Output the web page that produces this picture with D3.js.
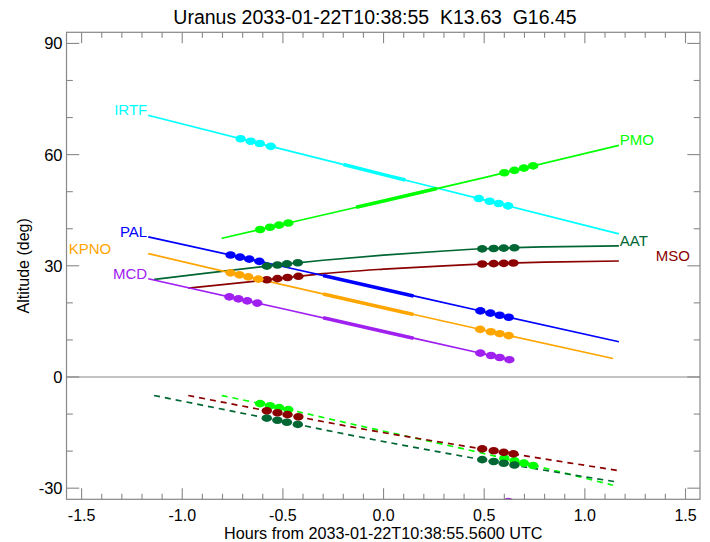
<!DOCTYPE html>
<html><head><meta charset="utf-8">
<script src="https://cdn.jsdelivr.net/npm/d3@7"></script>
<style>
body{margin:0;background:#fff;}
svg{display:block;font-family:"Liberation Sans",Arial,sans-serif;}
</style></head><body>
<svg id="c" width="710" height="542"></svg>
<script>
// ---------- data ----------
const title = "Uranus 2033-01-22T10:38:55  K13.63  G16.45";
const xLabel = "Hours from 2033-01-22T10:38:55.5600 UTC";
const yLabel = "Altitude (deg)";
const xMajorTicks = [-1.5, -1.0, -0.5, 0.0, 0.5, 1.0, 1.5];
const xMinorTicks = d3.range(-15, 16).map(d => d / 10);
const yMajorTicks = [-30, 0, 30, 60, 90];
const yMinorTicks = d3.range(-30, 91, 10);

const names  = ["IRTF", "PMO", "AAT", "MSO", "PAL", "KPNO", "MCD"];
const colors = ["#00ffff", "#00ff00", "#006633", "#8b0000", "#0000ff", "#ffa500", "#a020f0"];

// altitude curves [hours, deg]
const irtfAlt = [[-1.169, 70.6], [-0.5, 61.4], [0, 54.6], [0.5, 47.8], [1.169, 38.6]];
const pmoAlt  = [[-0.804, 37.4], [-0.5, 41.2], [0, 47.5], [0.5, 53.8], [1.169, 62.5]];
const aatAlt  = [[-1.14, 26.3], [-0.9, 27.9], [-0.5, 30.4], [-0.3, 31.5], [0, 32.9], [0.3, 34.0], [0.5, 34.6], [0.8, 35.1], [1.169, 35.4]];
const msoAlt  = [[-0.97, 24.0], [-0.8, 24.9], [-0.5, 26.7], [-0.3, 27.9], [0, 29.1], [0.3, 30.0], [0.5, 30.5], [0.8, 31.0], [1.169, 31.3]];
const palAlt  = [[-1.169, 37.8], [-0.5, 29.8], [0, 23.7], [0.5, 17.6], [1.169, 9.5]];
const kpnoAlt = [[-1.169, 33.3], [-0.76, 28.1], [0, 18.7], [0.5, 12.6], [1.14, 5.0]];
const mcdAlt  = [[-1.169, 26.5], [-0.5, 18.4], [0, 12.3], [0.5, 6.2], [0.639, 4.5]];

// dashed (below horizon) curves
const aatLow = [[-1.14, -5.0], [-0.58, -11.1], [-0.116, -16.2], [0.49, -22.3], [1.169, -28.4]];
const msoLow = [[-0.97, -5.0], [-0.58, -9.1], [-0.116, -13.9], [0.49, -19.4], [1.161, -25.2]];
const pmoLow = [[-0.804, -5.0], [-0.473, -8.8], [-0.116, -13.2], [0.597, -21.9], [1.139, -29.2]];

// highlighted (thick) windows [start, end] hours
const irtfThick = [-0.199, 0.108];
const pmoThick  = [-0.136, 0.265];
const palThick  = [-0.30, 0.149];
const kpnoThick = [-0.30, 0.149];
const mcdThick  = [-0.30, 0.149];

// marker times (hours)
const irtfDots = [-0.71, -0.66, -0.615, -0.56, 0.473, 0.527, 0.572, 0.619];
const pmoDots  = [-0.613, -0.564, -0.519, -0.473, 0.60, 0.65, 0.697, 0.743];
const aatDots  = [-0.58, -0.527, -0.48, -0.426, 0.49, 0.547, 0.597, 0.65];
const msoDots  = [-0.58, -0.527, -0.477, -0.423, 0.49, 0.547, 0.597, 0.645];
const palDots  = [-0.76, -0.713, -0.667, -0.617, 0.481, 0.531, 0.577, 0.622];
const kpnoDots = [-0.76, -0.716, -0.672, -0.622, 0.48, 0.533, 0.577, 0.622];
const mcdDots  = [-0.766, -0.721, -0.677, -0.627, 0.481, 0.534, 0.577, 0.625];
const mcdLowDots = [[0.62, -33.6]];

// ---------- layout / style ----------
const L = 66.5, R = 700, T = 32.3, B = 499.3;
const x = d3.scaleLinear().domain([-1.575, 1.572]).range([L, R]);
const y = d3.scaleLinear().domain([-33, 93]).range([B, T]);
const axisColor = "#888";
const labelSide = {IRTF: "left", PAL: "left", KPNO: "left", MCD: "left", PMO: "right", AAT: "right", MSO: "right"};
const labelShift = {KPNO: -36, MSO: 36};

const series = [
  {alt: irtfAlt, thick: irtfThick, dots: irtfDots},
  {alt: pmoAlt,  thick: pmoThick,  dots: pmoDots,  low: pmoLow},
  {alt: aatAlt,  thick: null,      dots: aatDots,  low: aatLow},
  {alt: msoAlt,  thick: null,      dots: msoDots,  low: msoLow},
  {alt: palAlt,  thick: palThick,  dots: palDots},
  {alt: kpnoAlt, thick: kpnoThick, dots: kpnoDots},
  {alt: mcdAlt,  thick: mcdThick,  dots: mcdDots},
].map((s, i) => Object.assign(s, {name: names[i], color: colors[i]}));

const svg = d3.select("#c");
svg.append("defs").append("clipPath").attr("id", "plot")
  .append("rect").attr("x", L).attr("y", T).attr("width", R - L).attr("height", B - T + 0.6);
const interp = pts => d3.scaleLinear().domain(pts.map(p => p[0])).range(pts.map(p => p[1])).clamp(true);
const line = d3.line().x(d => x(d[0])).y(d => y(d[1])).curve(d3.curveMonotoneX);

// zero line
svg.append("line").attr("x1", L).attr("x2", R).attr("y1", y(0)).attr("y2", y(0))
  .attr("stroke", axisColor).attr("stroke-width", 1.2);

const g = svg.append("g").attr("clip-path", "url(#plot)");
// dashed low curves
series.filter(s => s.low).forEach(s => {
  g.append("path").attr("d", line(s.low)).attr("fill", "none")
    .attr("stroke", s.color).attr("stroke-width", 1.7).attr("stroke-dasharray", "6,5");
});
// solid curves
series.forEach(s => {
  g.append("path").attr("d", line(s.alt)).attr("fill", "none")
    .attr("stroke", s.color).attr("stroke-width", 1.7);
  if (s.thick) {
    const f = interp(s.alt);
    const pts = [s.thick[0], ...s.alt.map(p => p[0]).filter(t => t > s.thick[0] && t < s.thick[1]), s.thick[1]]
      .map(t => [t, f(t)]);
    g.append("path").attr("d", d3.line().x(d => x(d[0])).y(d => y(d[1]))(pts)).attr("fill", "none")
      .attr("stroke", s.color).attr("stroke-width", 3.6);
  }
});
// markers
const RX = 5.2, RY = 3.8;
series.forEach(s => {
  const f = interp(s.alt);
  g.selectAll(null).data(s.dots).join("ellipse")
    .attr("cx", t => x(t)).attr("cy", t => y(f(t))).attr("rx", RX).attr("ry", RY).attr("fill", s.color);
  if (s.low) {
    const fl = interp(s.low);
    g.selectAll(null).data(s.dots).join("ellipse")
      .attr("cx", t => x(t)).attr("cy", t => y(fl(t))).attr("rx", RX).attr("ry", RY).attr("fill", s.color);
  }
});
g.selectAll(null).data(mcdLowDots).join("ellipse")
  .attr("cx", d => x(d[0])).attr("cy", d => y(d[1])).attr("rx", RX).attr("ry", RY).attr("fill", colors[6]);

// labels
series.forEach(s => {
  const left = labelSide[s.name] === "left";
  const p = left ? s.alt[0] : s.alt[s.alt.length - 1];
  const dx = (left ? -1 : 1) + (labelShift[s.name] || 0);
  svg.append("text").attr("x", x(p[0]) + dx).attr("y", y(p[1]))
    .attr("text-anchor", left ? "end" : "start").attr("font-size", 15)
    .attr("fill", s.color).text(s.name);
});

// frame
svg.append("rect").attr("x", L).attr("y", T).attr("width", R - L).attr("height", B - T)
  .attr("fill", "none").attr("stroke", axisColor).attr("stroke-width", 1.2);
const ticks = svg.append("g").attr("stroke", axisColor).attr("stroke-width", 1.1);
xMinorTicks.forEach(v => {
  const len = xMajorTicks.some(m => Math.abs(m - v) < 1e-9) ? 11 : 5.5;
  ticks.append("line").attr("x1", x(v)).attr("x2", x(v)).attr("y1", B).attr("y2", B - len);
  ticks.append("line").attr("x1", x(v)).attr("x2", x(v)).attr("y1", T).attr("y2", T + len);
});
yMinorTicks.forEach(v => {
  const len = yMajorTicks.includes(v) ? 12.7 : 6.3;
  ticks.append("line").attr("y1", y(v)).attr("y2", y(v)).attr("x1", L).attr("x2", L + len);
  ticks.append("line").attr("y1", y(v)).attr("y2", y(v)).attr("x1", R).attr("x2", R - len);
});
// tick labels
svg.selectAll(null).data(xMajorTicks).join("text")
  .attr("x", d => x(d)).attr("y", 520.5).attr("text-anchor", "middle").attr("font-size", 16)
  .text(d => d.toFixed(1));
svg.selectAll(null).data(yMajorTicks).join("text")
  .attr("x", L - 4).attr("y", d => y(d)).attr("dy", "0.36em").attr("text-anchor", "end").attr("font-size", 16.5)
  .text(d => d);
// titles
svg.append("text").attr("x", 375).attr("y", 24).attr("text-anchor", "middle")
  .attr("font-size", 19.5).style("white-space", "pre").text(title);
svg.append("text").attr("x", (L + R) / 2).attr("y", 538.5).attr("text-anchor", "middle")
  .attr("font-size", 16.2).text(xLabel);
svg.append("text").attr("transform", `translate(28.5,${(T + B) / 2}) rotate(-90)`)
  .attr("text-anchor", "middle").attr("font-size", 16).text(yLabel);
</script>
</body></html>
